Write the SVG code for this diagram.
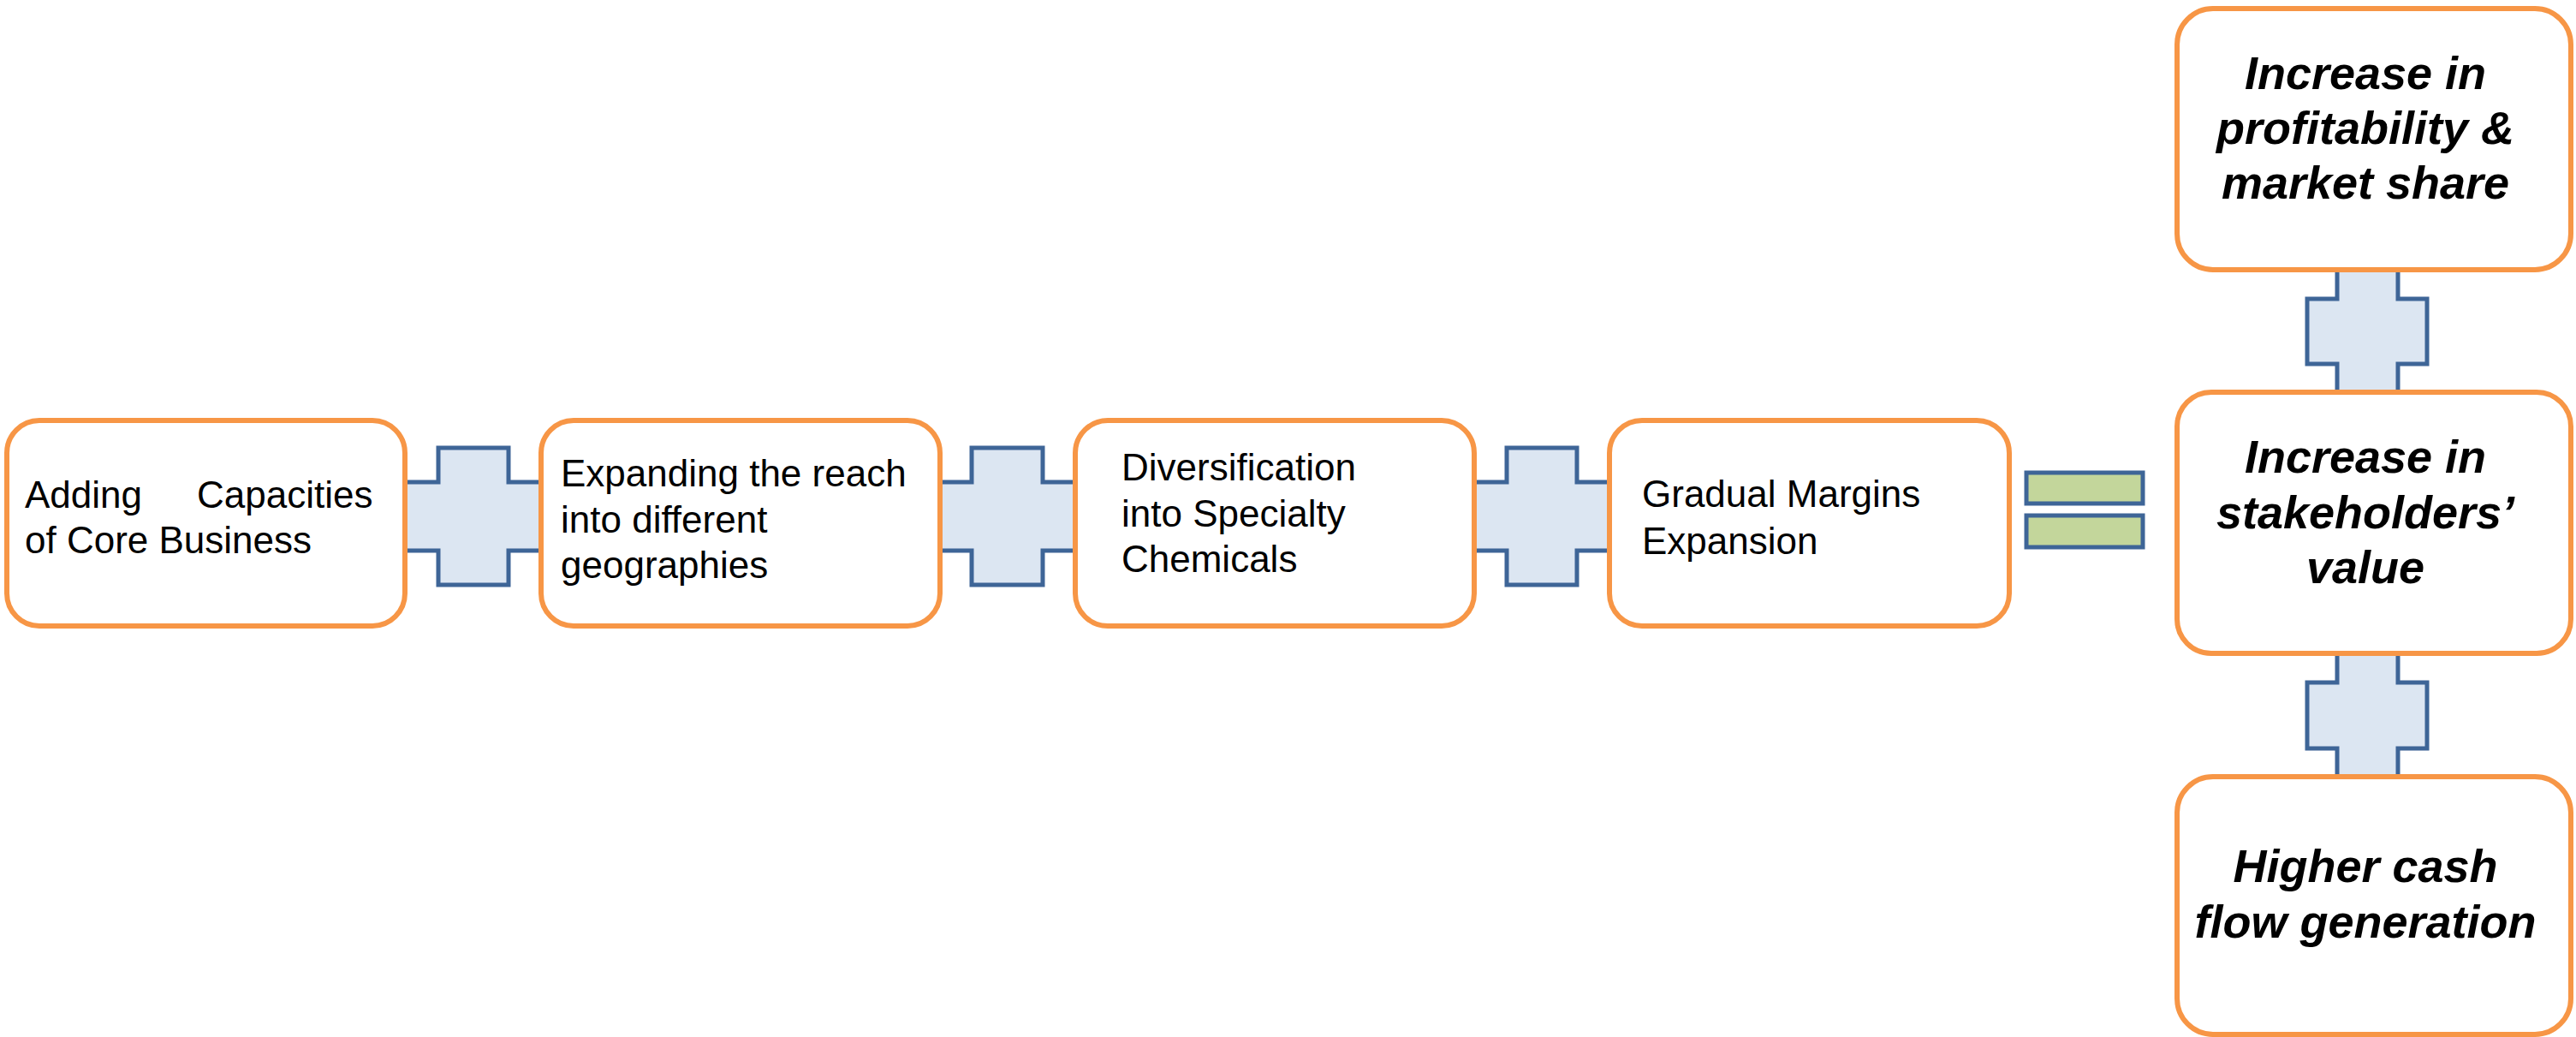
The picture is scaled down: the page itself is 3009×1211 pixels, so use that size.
<svg xmlns="http://www.w3.org/2000/svg" width="3009" height="1211" viewBox="0 0 3009 1211">
<style>
.box{fill:#FFFFFF;stroke:#F79646;stroke-width:6}
.plus{fill:#DCE6F2;stroke:#3E6597;stroke-width:5}
.eq{fill:#C3D69B;stroke:#3E6597;stroke-width:5}
.t{font-family:"Liberation Sans",Arial,sans-serif;font-size:44px;fill:#000000}
.ti{font-family:"Liberation Sans",Arial,sans-serif;font-size:54px;font-weight:bold;font-style:italic;fill:#000000;text-anchor:middle}
</style>
<rect width="3009" height="1211" fill="#FFFFFF"/>
<g id="connectors">
<path class="plus" d="M473,563 H512 V523 H594 V563 H633 V643 H594 V683 H512 V643 H473 Z"/>
<path class="plus" d="M1098,563 H1135 V523 H1218 V563 H1256 V643 H1218 V683 H1135 V643 H1098 Z"/>
<path class="plus" d="M1722,563 H1760 V523 H1842 V563 H1880 V643 H1842 V683 H1760 V643 H1722 Z"/>
<rect class="eq" x="2367" y="552" width="136" height="36"/>
<rect class="eq" x="2367" y="602" width="136" height="37"/>
<path class="plus" d="M2730,315 H2801 V349 H2835 V425 H2801 V459 H2730 V425 H2695 V349 H2730 Z"/>
<path class="plus" d="M2730,763 H2801 V797 H2835 V874 H2801 V907 H2730 V874 H2695 V797 H2730 Z"/>
</g>
<g id="node-core">
<rect class="box" x="8" y="491" width="465" height="240" rx="38"/>
<text class="t" x="29" y="593">Adding</text>
<text class="t" x="230" y="593">Capacities</text>
<text class="t" x="29" y="646">of Core Business</text>
</g>
<g id="node-geo">
<rect class="box" x="632" y="491" width="466" height="240" rx="38"/>
<text class="t" x="655" y="568">Expanding the reach</text>
<text class="t" x="655" y="622">into different</text>
<text class="t" x="655" y="675">geographies</text>
</g>
<g id="node-specialty">
<rect class="box" x="1256" y="491" width="466" height="240" rx="38"/>
<text class="t" x="1310" y="561">Diversification</text>
<text class="t" x="1310" y="615">into Specialty</text>
<text class="t" x="1310" y="668">Chemicals</text>
</g>
<g id="node-margins">
<rect class="box" x="1880" y="491" width="467" height="240" rx="38"/>
<text class="t" x="1918" y="592">Gradual Margins</text>
<text class="t" x="1918" y="647">Expansion</text>
</g>
<g id="node-profitability">
<rect class="box" x="2543" y="10" width="460" height="305" rx="42"/>
<text class="ti" x="2763" y="104">Increase in</text>
<text class="ti" x="2763" y="168">profitability &amp;</text>
<text class="ti" x="2763" y="232">market share</text>
</g>
<g id="node-stakeholders">
<rect class="box" x="2543" y="458" width="460" height="305" rx="40"/>
<text class="ti" x="2763" y="552">Increase in</text>
<text class="ti" x="2763" y="617">stakeholders’</text>
<text class="ti" x="2763" y="681">value</text>
</g>
<g id="node-cashflow">
<rect class="box" x="2543" y="907" width="460" height="301" rx="42"/>
<text class="ti" x="2763" y="1030">Higher cash</text>
<text class="ti" x="2763" y="1095">flow generation</text>
</g>
</svg>
